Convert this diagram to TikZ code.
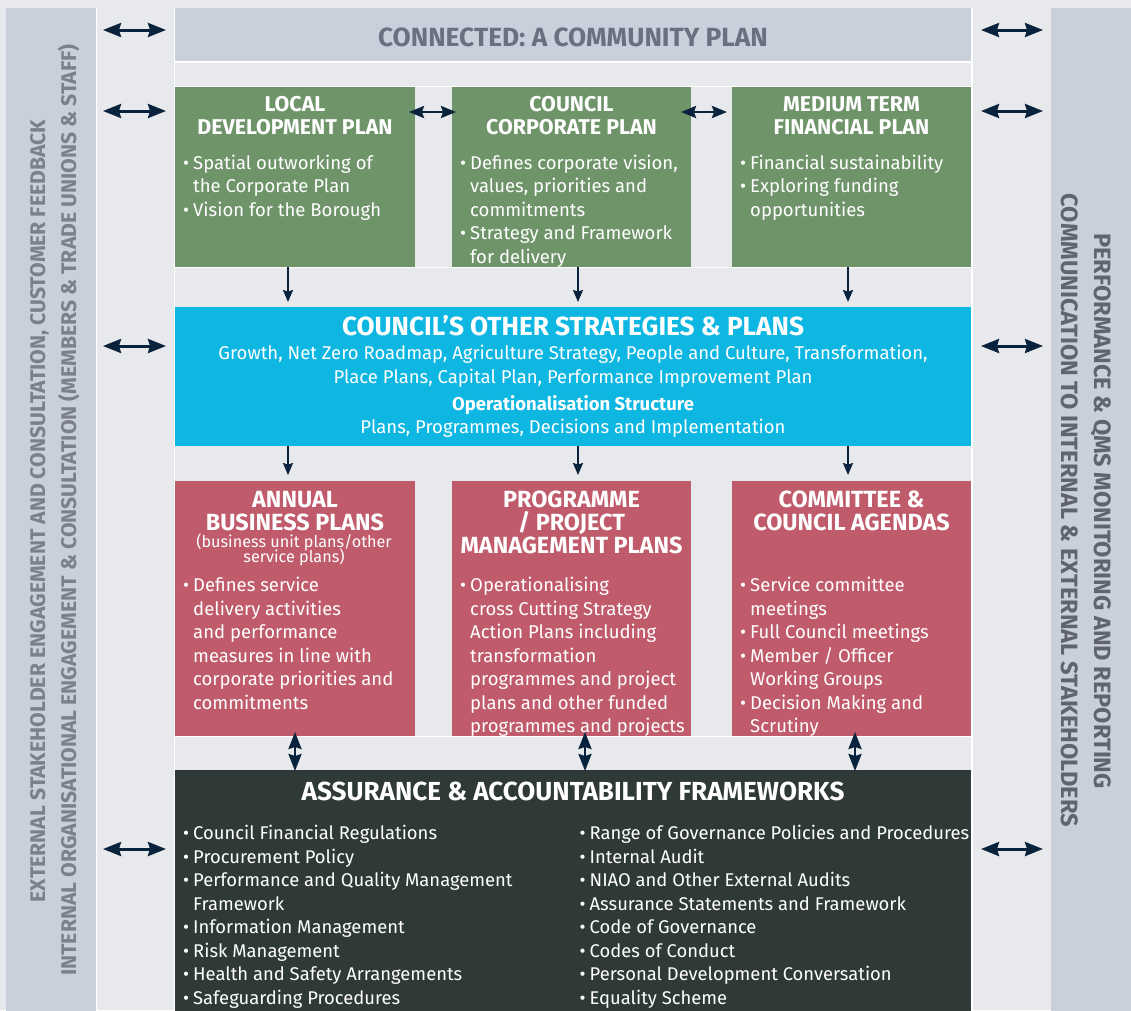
\documentclass[tikz,border=0pt]{standalone}
\usepackage{fontspec}
\setmainfont{Fira Sans}
\usetikzlibrary{arrows.meta}
\definecolor{bg}{HTML}{E8E9ED}
\definecolor{bar}{HTML}{C9CFDB}
\definecolor{bartxt}{HTML}{7B808C}
\definecolor{bartxtR}{HTML}{5F6470}
\definecolor{toptxt}{HTML}{6B7080}
\definecolor{grn}{HTML}{6F946A}
\definecolor{cyn}{HTML}{0EB6E2}
\definecolor{rd}{HTML}{C05B6B}
\definecolor{drk}{HTML}{2F3A38}
\definecolor{navy}{HTML}{0A233C}
\newcommand\fs[1]{\fontsize{#1}{#1}\selectfont}
\newcommand\bu{\llap{\textbullet\hspace{4pt}}}
\newcommand\tlines[5]{\foreach \ltext [count=\lidx] in {#5} {\node[#1] (#2-\lidx) at (#3,{#4+(\lidx-1)*23.5}) {\ltext};}}
\begin{document}
\begin{tikzpicture}[x=1pt,y=-1pt,
  box/.style={draw=none, inner sep=0pt, outer sep=0pt, anchor=north west},
  ttl/.style={anchor=base, inner sep=0pt, text=white, font=\bfseries\fs{21.4}},
  rttl/.style={anchor=base, inner sep=0pt, text=white, font=\bfseries\fs{23.4}},
  body/.style={anchor=base west, inner sep=0pt, text=white, font=\fs{18.5}},
  dbody/.style={anchor=base west, inner sep=0pt, text=white, font=\fs{18.4}},
  cbody/.style={anchor=base, inner sep=0pt, text=white, font=\fs{18.5}},
  side/.style={{Stealth[length=18pt,width=14pt,inset=2pt]}-{Stealth[length=18pt,width=14pt,inset=2pt]}, line width=3pt, draw=navy},
  mid/.style={{Stealth[length=15pt,width=12pt,inset=2pt]}-{Stealth[length=15pt,width=12pt,inset=2pt]}, line width=2.5pt, draw=navy},
  down/.style={-{Stealth[length=12pt,width=10pt,inset=1.5pt]}, line width=2pt, draw=navy},
  vdbl/.style={{Stealth[length=17pt,width=13pt,inset=2pt]}-{Stealth[length=17pt,width=13pt,inset=2pt]}, line width=2.5pt, draw=navy},
  wline/.style={draw=white, line width=1.2pt}]
\clip (0,0) rectangle (1131,1010);
\fill[bg] (0,0) rectangle (1131,1010);
% side bars
\node[box, fill=bar, minimum width=90pt, minimum height=1010pt] (lbar) at (6,8) {};
\node[box, fill=bar, minimum width=85pt, minimum height=1010pt] (rbar) at (1051,8) {};
\draw[wline] (96.6,8) -- (96.6,1010);
\draw[wline] (972,8) -- (972,1010);
\draw[wline] (174.5,8) -- (174.5,1010);
% side texts
\node[anchor=base, inner sep=0pt, rotate=90, text=bartxt, font=\bfseries\fs{21.2}] (ltxt1) at (45,511) {EXTERNAL STAKEHOLDER ENGAGEMENT AND CONSULTATION, CUSTOMER FEEDBACK};
\node[anchor=base, inner sep=0pt, rotate=90, text=bartxt, font=\bfseries\fs{21.2}] (ltxt2) at (76,510) {INTERNAL ORGANISATIONAL ENGAGEMENT \& CONSULTATION (MEMBERS \& TRADE UNIONS \& STAFF)};
\node[anchor=base, inner sep=0pt, rotate=-90, text=bartxtR, font=\bfseries\fs{23.6}] (rtxt1) at (1094,511) {PERFORMANCE \& QMS MONITORING AND REPORTING};
\node[anchor=base, inner sep=0pt, rotate=-90, text=bartxtR, font=\bfseries\fs{23.6}] (rtxt2) at (1061,510.5) {COMMUNICATION TO INTERNAL \& EXTERNAL STAKEHOLDERS};
% top box
\node[box, fill=bar, minimum width=796pt, minimum height=53pt] (top) at (175,8) {};
\node[anchor=base, inner sep=0pt, text=toptxt, font=\bfseries\fs{26.3}] (toptitle) at (573,46) {CONNECTED: A COMMUNITY PLAN};
\draw[wline] (175,62) -- (971,62);
\draw[wline] (175,86.4) -- (971,86.4);
% green boxes
\node[box, fill=grn, minimum width=240pt, minimum height=180pt] (ldp) at (175,87) {};
\node[box, fill=grn, minimum width=239pt, minimum height=180pt] (ccp) at (452,87) {};
\node[box, fill=grn, minimum width=239pt, minimum height=180pt] (mtfp) at (732,87) {};
\draw[wline] (175,267.6) -- (971,267.6);
\begin{scope}
\clip (175,87) rectangle (415,267) (452,87) rectangle (691,267) (732,87) rectangle (971,267);
\node[ttl] (ldp-t1) at (295,111) {LOCAL};
\node[ttl] (ldp-t2) at (295,134) {DEVELOPMENT PLAN};
\tlines{body}{ldpb}{193}{169}{{\bu Spatial outworking of},{the Corporate Plan},{\bu Vision for the Borough}}
\node[ttl] (ccp-t1) at (571.5,111) {COUNCIL};
\node[ttl] (ccp-t2) at (571.5,134) {CORPORATE PLAN};
\tlines{body}{ccpb}{470}{169}{{\bu Defines corporate vision,},{values, priorities and},{commitments},{\bu Strategy and Framework},{for delivery}}
\node[ttl] (mtfp-t1) at (851.5,111) {MEDIUM TERM};
\node[ttl] (mtfp-t2) at (851.5,134) {FINANCIAL PLAN};
\tlines{body}{mtfpb}{750}{169}{{\bu Financial sustainability},{\bu Exploring funding},{opportunities}}
\end{scope}
% cyan box
\node[box, fill=cyn, minimum width=796pt, minimum height=139pt] (cyan) at (175,307) {};
\node[anchor=base, inner sep=0pt, text=white, font=\bfseries\fs{26.2}] (cyan-t) at (573,335.5) {COUNCIL’S OTHER STRATEGIES \& PLANS};
\node[cbody] (cyan-1) at (573,359.5) {Growth, Net Zero Roadmap, Agriculture Strategy, People and Culture, Transformation,};
\node[cbody] (cyan-2) at (573,383) {Place Plans, Capital Plan, Performance Improvement Plan};
\node[cbody, font=\bfseries\fs{18.5}] (cyan-3) at (573,410) {Operationalisation Structure};
\node[cbody] (cyan-4) at (573,433.5) {Plans, Programmes, Decisions and Implementation};
% red boxes
\node[box, fill=rd, minimum width=240pt, minimum height=255pt] (abp) at (175,481) {};
\node[box, fill=rd, minimum width=239pt, minimum height=255pt] (ppmp) at (452,481) {};
\node[box, fill=rd, minimum width=239pt, minimum height=255pt] (cca) at (732,481) {};
\draw[wline] (175,736.6) -- (971,736.6);
\begin{scope}
\clip (175,481) rectangle (415,736) (452,481) rectangle (691,736) (732,481) rectangle (971,736);
\node[rttl] (abp-t1) at (295,507) {ANNUAL};
\node[rttl] (abp-t2) at (295,530) {BUSINESS PLANS};
\node[anchor=base, inner sep=0pt, text=white, font=\fs{16.2}] (abp-s1) at (294,547) {(business unit plans/other};
\node[anchor=base, inner sep=0pt, text=white, font=\fs{16.2}] (abp-s2) at (294,562.5) {service plans)};
\tlines{body}{abpb}{193}{591.5}{{\bu Defines service},{delivery activities},{and performance},{measures in line with},{corporate priorities and},{commitments}}
\node[rttl] (ppmp-t1) at (571.5,507) {PROGRAMME};
\node[rttl] (ppmp-t2) at (571.5,530) {/ PROJECT};
\node[rttl] (ppmp-t3) at (571.5,553) {MANAGEMENT PLANS};
\tlines{body}{ppmpb}{470}{591.5}{{\bu Operationalising},{cross Cutting Strategy},{Action Plans including},{transformation},{programmes and project},{plans and other funded},{programmes and projects}}
\node[rttl] (cca-t1) at (851.5,507) {COMMITTEE \&};
\node[rttl] (cca-t2) at (851.5,530) {COUNCIL AGENDAS};
\tlines{body}{ccab}{750}{591.5}{{\bu Service committee},{meetings},{\bu Full Council meetings},{\bu Member / Officer},{Working Groups},{\bu Decision Making and},{Scrutiny}}
\end{scope}
% dark box
\node[box, fill=drk, minimum width=796pt, minimum height=250pt] (dark) at (175,770) {};
\node[anchor=base, inner sep=0pt, text=white, font=\bfseries\fs{26.1}] (dark-t) at (573,800.5) {ASSURANCE \& ACCOUNTABILITY FRAMEWORKS};
\tlines{dbody}{darkl}{193}{839.5}{{\bu Council Financial Regulations},{\bu Procurement Policy},{\bu Performance and Quality Management},{Framework},{\bu Information Management},{\bu Risk Management},{\bu Health and Safety Arrangements},{\bu Safeguarding Procedures}}
\tlines{dbody}{darkr}{589.5}{839.5}{{\bu Range of Governance Policies and Procedures},{\bu Internal Audit},{\bu NIAO and Other External Audits},{\bu Assurance Statements and Framework},{\bu Code of Governance},{\bu Codes of Conduct},{\bu Personal Development Conversation},{\bu Equality Scheme}}
% side arrows
\foreach \yy [count=\k] in {30,111,346,849} {
  \coordinate (la\k) at (103,\yy); \coordinate (lb\k) at (166,\yy);
  \coordinate (ra\k) at (981,\yy); \coordinate (rb\k) at (1043,\yy);
  \draw[side] (la\k) -- (lb\k);
  \draw[side] (ra\k) -- (rb\k);
}
% arrows between green boxes
\draw[mid] ([shift={(-6,25)}]ldp.north east) -- ([shift={(4,25)}]ccp.north west);
\draw[mid] ([shift={(-10,25)}]ccp.north east) -- ([shift={(-5,25)}]mtfp.north west);
% green -> cyan
\draw[down] ([xshift=-7pt]ldp.south) -- ([xshift=-7pt,yshift=5pt]ldp.south |- cyan.north);
\draw[down] ([xshift=6.5pt]ccp.south) -- ([xshift=6.5pt,yshift=5pt]ccp.south |- cyan.north);
\draw[down] ([xshift=-3.5pt]mtfp.south) -- ([xshift=-3.5pt,yshift=5pt]mtfp.south |- cyan.north);
% cyan -> red
\draw[down] ([xshift=-7pt]cyan.south -| abp.north) -- ([xshift=-7pt,yshift=6pt]abp.north);
\draw[down] ([xshift=6.5pt]cyan.south -| ppmp.north) -- ([xshift=6.5pt,yshift=6pt]ppmp.north);
\draw[down] ([xshift=-3.5pt]cyan.south -| cca.north) -- ([xshift=-3.5pt,yshift=6pt]cca.north);
% red <-> dark
\draw[vdbl] ([yshift=4pt]abp.south) -- ([yshift=-1pt]abp.south |- dark.north);
\draw[vdbl] ([xshift=13.5pt,yshift=4pt]ppmp.south) -- ([xshift=13.5pt,yshift=-1pt]ppmp.south |- dark.north);
\draw[vdbl] ([xshift=3.5pt,yshift=4pt]cca.south) -- ([xshift=3.5pt,yshift=-1pt]cca.south |- dark.north);
\end{tikzpicture}
\end{document}
